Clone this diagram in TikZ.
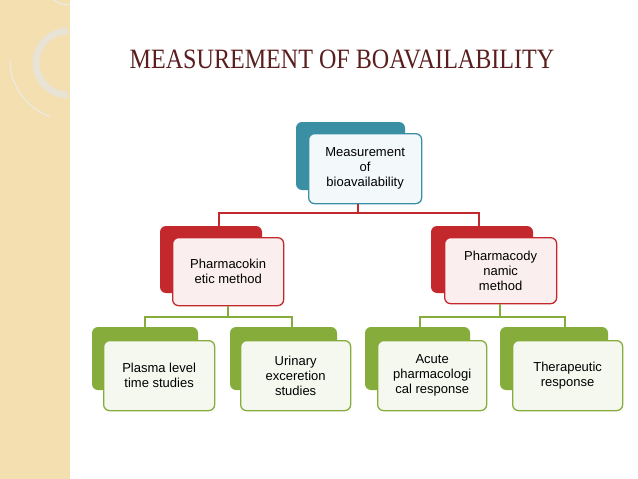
\documentclass[tikz,border=0pt]{standalone}
\usepackage{fontspec}
\setmainfont{Liberation Sans}
\newfontfamily\titlefont{Liberation Serif}
\definecolor{tealc}{HTML}{3B8FA5}
\definecolor{redc}{HTML}{C3282C}
\definecolor{greenc}{HTML}{86AC3C}
\definecolor{beige}{HTML}{F3DFB0}
\definecolor{titlec}{HTML}{5A1E1E}
\tikzset{
  backbox/.style={rounded corners=6pt},
  frontbox/.style={rounded corners=6pt, line width=1.3pt, align=center, font=\fontsize{13}{15}\selectfont},
  conn/.style={line width=1.2pt}
}
\begin{document}
\begin{tikzpicture}[x=1pt,y=-1pt]
\useasboundingbox (0,0) rectangle (638,479);
\fill[white] (0,0) rectangle (638,479);
\fill[beige] (0,0) rectangle (70,479);
\draw[white, line width=0.8pt] (70,0) -- (70,479);
\draw[white!85!gray, line width=1pt] (70,5) arc[start angle=90,end angle=270,radius=30];
\draw[white!80!gray, line width=7pt, opacity=0.7] (68,95) arc[start angle=90,end angle=270,radius=32];
\draw[white!85!gray, line width=1pt] (10,60) arc[start angle=180,end angle=110,radius=60];
\node[font=\titlefont\fontsize{28}{30}\selectfont, text=titlec, inner sep=0, xscale=0.86] (title) at (342,59) {MEASUREMENT OF BOAVAILABILITY};

% top
\fill[tealc, backbox] (296,122) rectangle (405,190);
\node[frontbox, draw=tealc, fill=tealc!6, minimum width=113pt, minimum height=70pt, anchor=north west] (top) at (308,133) {Measurement\\of\\bioavailability};

% level 2
\fill[redc, backbox] (160,226) rectangle (262,293);
\node[frontbox, draw=redc, fill=redc!8, minimum width=111pt, minimum height=68pt, anchor=north west] (pk) at (172,237) {Pharmacokin\\etic method};
\fill[redc, backbox] (431,226) rectangle (533,293);
\node[frontbox, draw=redc, fill=redc!8, minimum width=112pt, minimum height=66pt, anchor=north west] (pd) at (444,237) {Pharmacody\\namic\\method};

% level 3
\fill[greenc, backbox] (92,327) rectangle (198,390);
\node[frontbox, draw=greenc, fill=greenc!8, minimum width=111pt, minimum height=70pt, anchor=north west] (pl) at (103,340) {Plasma level\\time studies};
\fill[greenc, backbox] (230,327) rectangle (337,390);
\node[frontbox, draw=greenc, fill=greenc!8, minimum width=110pt, minimum height=70pt, anchor=north west] (ur) at (240,340) {Urinary\\exceretion\\studies};
\fill[greenc, backbox] (365,327) rectangle (470,390);
\node[frontbox, draw=greenc, fill=greenc!8, minimum width=109pt, minimum height=70pt, anchor=north west] (ac) at (377,340) {Acute\\pharmacologi\\cal response};
\fill[greenc, backbox] (500,327) rectangle (608,390);
\node[frontbox, draw=greenc, fill=greenc!8, minimum width=110pt, minimum height=70pt, anchor=north west] (th) at (512,340) {Therapeutic\\response};

% connectors
\coordinate (tj) at (358,213);
\draw[conn, redc] (top.south -| tj) -- (tj);
\draw[conn, redc] (219,226) -- (219,213) -- (479,213) -- (479,226);
\draw[conn, greenc] (pk.south -| 228,0) -- (228,317);
\draw[conn, greenc] (145,327) -- (145,317) -- (292,317) -- (292,327);
\draw[conn, greenc] (pd.south -| 500,0) -- (500,317);
\draw[conn, greenc] (420,327) -- (420,317) -- (565,317) -- (565,327);
\end{tikzpicture}
\end{document}
